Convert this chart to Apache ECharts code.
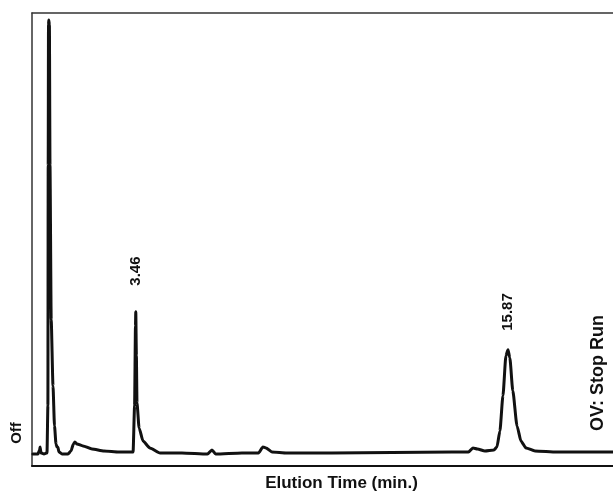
<!DOCTYPE html>
<html>
<head>
<meta charset="utf-8">
<script src="https://cdn.jsdelivr.net/npm/echarts@6/dist/echarts.min.js"></script>
<style>
  html, body { margin: 0; padding: 0; background: #fff; }
  #chart { width: 613px; height: 492px; }
</style>
</head>
<body>
<div id="chart"></div>
<script>
// elution time (min) and detector response (arbitrary units)
const times = [
  0.03, 0.2, 0.25, 0.27, 0.3, 0.4, 0.5, 0.53, 0.54, 0.55, 0.56, 0.58, 0.6, 0.64, 0.7, 0.75, 0.8, 0.83, 0.86, 0.9,
  1.0, 1.2, 1.3, 1.38, 1.43, 1.5, 1.7, 2.0, 2.4, 2.9, 3.3, 3.37, 3.42, 3.45, 3.46, 3.48, 3.5, 3.57, 3.7, 3.93,
  4.27, 5.0, 5.85, 6.0, 6.12, 7.0, 7.55, 7.7, 7.8, 8.0, 8.5, 10.0, 12.0, 14.0, 14.55, 14.7, 14.85, 15.1, 15.4, 15.5,
  15.6, 15.7, 15.8, 15.87, 15.93, 16.03, 16.17, 16.3, 16.47, 16.77, 17.5, 19.37
];
const response = [
  12, 12, 16, 19, 13, 12, 13, 60, 300, 440, 445, 440, 300, 146, 80, 40, 22, 19, 19, 14,
  12, 12, 15, 22, 24, 22, 20, 17, 15, 14, 14, 14, 60, 140, 154, 110, 63, 38, 25, 18,
  13, 13, 12, 16, 12, 13, 13, 19, 18, 14, 13, 13, 13.5, 14, 14, 18, 17, 15, 16, 19,
  35, 70, 110, 116, 108, 75, 40, 25, 18, 15, 14, 14
];
const peakLabels = ["3.46", "15.87"];
const peakTimes = [3.46, 15.87];
const peakHeights = [154, 116];
const stopRun = { label: "OV: Stop Run", time: 18.87, level: 35 };

const trace = times.map((t, i) => [t, response[i]]);
const ink = "#111";
const font = "'Liberation Sans', Arial, sans-serif";

const chart = echarts.init(document.getElementById("chart"), null, { renderer: "canvas" });

const axisOff = { show: false };

chart.setOption({
  animation: false,
  backgroundColor: "#fff",
  grid: { left: 32, right: 0, top: 13, bottom: 26, containLabel: false, outerBoundsMode: "none" },
  xAxis: [
    {
      type: "value",
      min: 0,
      max: 19.37,
      position: "bottom",
      axisLine: { show: true, lineStyle: { color: ink, width: 2 } },
      axisTick: axisOff,
      axisLabel: axisOff,
      splitLine: axisOff,
      name: "Elution Time (min.)",
      nameLocation: "middle",
      nameGap: 9,
      nameTextStyle: {
        color: ink, fontFamily: font, fontWeight: "bold", fontSize: 17,
        padding: [0, 0, 0, 38]
      }
    },
    {
      type: "value",
      min: 0,
      max: 19.37,
      position: "top",
      axisLine: { show: true, lineStyle: { color: "#333", width: 1.5 } },
      axisTick: axisOff,
      axisLabel: axisOff,
      splitLine: axisOff
    }
  ],
  yAxis: {
    type: "value",
    min: 0,
    max: 452,
    axisLine: { show: true, lineStyle: { color: "#333", width: 1.5 } },
    axisTick: axisOff,
    axisLabel: axisOff,
    splitLine: axisOff
  },
  graphic: [
    {
      type: "text",
      x: 17,
      y: 433,
      rotation: Math.PI / 2,
      style: {
        text: "Off", x: 0, y: 0, align: "center", verticalAlign: "middle",
        fill: ink, font: "bold 15px " + font
      }
    }
  ],
  series: [
    {
      type: "line",
      data: trace,
      showSymbol: false,
      smooth: 0.2,
      smoothMonotone: "x",
      lineStyle: { color: ink, width: 3, cap: "round", join: "round" },
      markPoint: {
        symbol: "circle",
        symbolSize: 0,
        label: {
          show: true,
          position: "top",
          rotate: 90,
          align: "left",
          verticalAlign: "middle",
          color: ink,
          fontFamily: font,
          fontWeight: "bold",
          fontSize: 15,
          formatter: "{b}"
        },
        data: [
          { name: peakLabels[0], coord: [peakTimes[0], peakHeights[0]], label: { distance: 26 } },
          { name: peakLabels[1], coord: [peakTimes[1], peakHeights[1]], label: { distance: 19 } },
          { name: stopRun.label, coord: [stopRun.time, stopRun.level], label: { distance: 0, fontSize: 18 } }
        ]
      }
    }
  ]
});
</script>
</body>
</html>
